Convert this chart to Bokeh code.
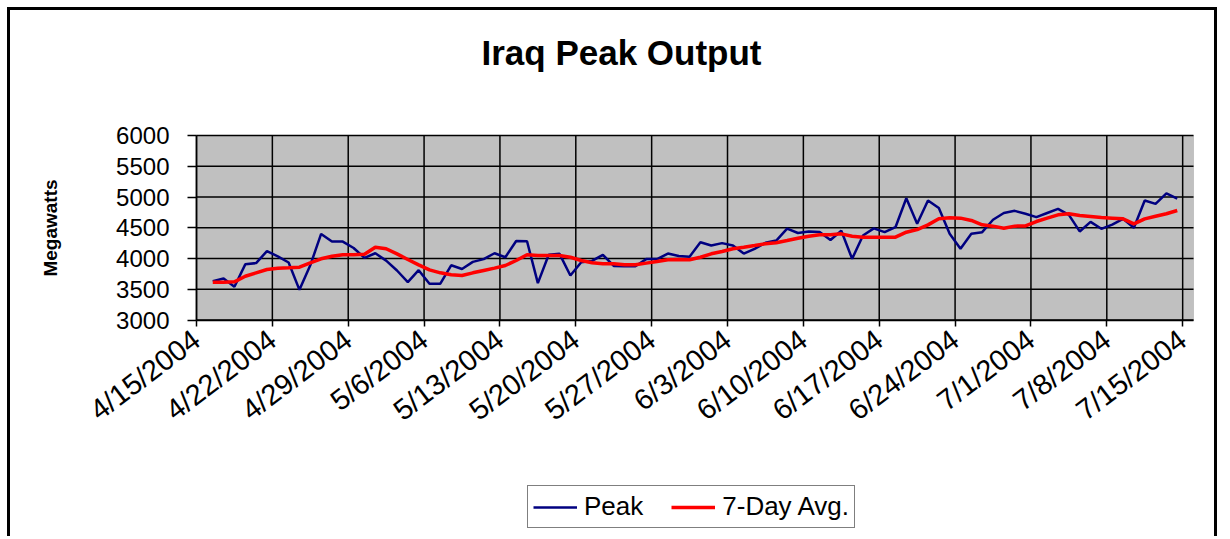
import math
import datetime as dt
from bokeh.plotting import figure
from bokeh.models import (FixedTicker, Legend, LegendItem, Label, LinearAxis,
                          Range1d, BoxAnnotation)
from bokeh.embed import file_html
from bokeh.resources import INLINE

# ---------------- data ----------------
TITLE = "Iraq Peak Output"
Y_LABEL = "Megawatts"
AXIS_START = "2004-04-15"
FIRST_DAY = "2004-04-16"
TICK_LABELS = ["4/15/2004", "4/22/2004", "4/29/2004", "5/6/2004", "5/13/2004",
               "5/20/2004", "5/27/2004", "6/3/2004", "6/10/2004", "6/17/2004",
               "6/24/2004", "7/1/2004", "7/8/2004", "7/15/2004"]
Y_TICKS = [3000, 3500, 4000, 4500, 5000, 5500, 6000]

peak = [3630, 3675, 3540, 3905, 3925, 4120, 4035, 3935, 3490, 3890,
        4400, 4275, 4275, 4170, 4010, 4085, 3965, 3805, 3615, 3810,
        3588, 3590, 3890, 3830, 3945, 3990, 4085, 4021, 4285, 4280,
        3600, 4060, 4076, 3724, 3940, 3960, 4060, 3880, 3875, 3875,
        3990, 3990, 4080, 4040, 4030, 4265, 4211, 4250, 4211, 4080,
        4158, 4255, 4292, 4485, 4415, 4439, 4430, 4300, 4450, 3995,
        4374, 4490, 4428, 4509, 4980, 4564, 4943, 4820, 4401, 4158,
        4401, 4428, 4630, 4740, 4775, 4727, 4672, 4740, 4808, 4710,
        4440, 4595, 4483, 4550, 4645, 4500, 4943, 4889, 5060, 4975]

avg7 = [3615, 3615, 3620, 3712, 3767, 3821, 3843, 3848, 3859, 3930,
        3995, 4037, 4060, 4060, 4070, 4184, 4158, 4076, 3984, 3897,
        3816, 3767, 3735, 3724, 3767, 3805, 3843, 3886, 3967, 4060,
        4049, 4049, 4049, 4021, 3967, 3930, 3914, 3914, 3897, 3897,
        3925, 3951, 3978, 3984, 3980, 4021, 4076, 4114, 4158, 4184,
        4211, 4239, 4255, 4292, 4330, 4363, 4385, 4385, 4401, 4363,
        4347, 4347, 4347, 4347, 4428, 4471, 4547, 4645, 4661, 4656,
        4618, 4547, 4526, 4493, 4526, 4530, 4601, 4656, 4710, 4727,
        4699, 4683, 4667, 4656, 4645, 4564, 4645, 4688, 4727, 4780]

# ---------------- layout (pixels, page coordinates) ----------------
W, H = 1210, 529            # drawing area inside the CSS border
ORIGIN_X, ORIGIN_Y = 10, 10  # page position of drawing area
AREA_L, AREA_R = 196, 1193   # plot area left/right (page px)
AREA_T, AREA_B = 135, 319.5  # plot area top/bottom (page px)

start = dt.date.fromisoformat(AXIS_START)
first = dt.date.fromisoformat(FIRST_DAY)
off0 = (first - start).days
xs = [off0 + i + 0.5 for i in range(len(peak))]
tick_pos = [7 * i for i in range(len(TICK_LABELS))]
n_days = tick_pos[-1] + 1
y0, y1 = Y_TICKS[0], Y_TICKS[-1]

kx = (AREA_R - AREA_L) / n_days
ky = (AREA_B - AREA_T) / (y1 - y0)
x_start = -(AREA_L - ORIGIN_X) / kx
x_end = n_days + (ORIGIN_X + W - AREA_R) / kx
y_end = y1 + (AREA_T - ORIGIN_Y) / ky
y_start = y0 - (ORIGIN_Y + H - AREA_B) / ky

FONT = "Liberation Sans"

p = figure(width=W, height=H, output_backend="svg", toolbar_location=None,
           x_range=Range1d(x_start, x_end), y_range=Range1d(y_start, y_end),
           x_axis_type=None, y_axis_type=None,
           min_border_left=0, min_border_right=0,
           min_border_top=0, min_border_bottom=0)
p.styles = {"margin-left": "7px", "margin-top": "7px",
            "border-top": "3px solid black", "border-left": "3px solid black",
            "border-right": "3px solid black"}
p.background_fill_color = "white"
p.border_fill_color = "white"
p.outline_line_color = None
p.grid.visible = False

# plot area
p.add_layout(BoxAnnotation(left=0, right=n_days, bottom=y0, top=y1,
                           fill_color="#C0C0C0", fill_alpha=1,
                           line_color="#808080", line_width=1, level="underlay"))

# grid lines
p.segment(x0=tick_pos, y0=[y0] * len(tick_pos), x1=tick_pos, y1=[y1] * len(tick_pos),
          line_color="black", line_width=1.5)
p.segment(x0=[0] * len(Y_TICKS), y0=Y_TICKS, x1=[n_days] * len(Y_TICKS), y1=Y_TICKS,
          line_color="black", line_width=1.5)

# axes
xaxis = LinearAxis(fixed_location=y0, bounds=(0, n_days),
                   ticker=FixedTicker(ticks=tick_pos))
xaxis.major_label_overrides = {t: s for t, s in zip(tick_pos, TICK_LABELS)}
xaxis.major_label_orientation = math.radians(37)
yaxis = LinearAxis(fixed_location=0, bounds=(y0, y1),
                   ticker=FixedTicker(ticks=Y_TICKS))
for ax in (xaxis, yaxis):
    ax.axis_line_color = "black"
    ax.axis_line_width = 1.5
    ax.major_tick_line_color = "black"
    ax.major_tick_line_width = 1.5
    ax.major_tick_in = 0
    ax.minor_tick_line_color = None
    ax.major_label_text_font = FONT
    ax.major_label_text_color = "black"
xaxis.major_tick_out = 6
yaxis.major_tick_out = 9
xaxis.major_label_text_font_size = "29px"
yaxis.major_label_text_font_size = "24px"
xaxis.major_label_standoff = 10
yaxis.major_label_standoff = 18
yaxis.axis_label = Y_LABEL
yaxis.axis_label_text_font = FONT
yaxis.axis_label_text_font_style = "bold"
yaxis.axis_label_text_font_size = "19px"
yaxis.axis_label_text_color = "black"
yaxis.axis_label_standoff = 52
p.add_layout(xaxis, "below")
p.add_layout(yaxis, "left")

# lines
r_peak = p.line(xs, peak, line_color="#000080", line_width=2.5)
r_avg = p.line(xs, avg7, line_color="#FF0000", line_width=3.5)

# title
p.add_layout(Label(x=621 - ORIGIN_X, y=ORIGIN_Y + H - 52, x_units="screen", y_units="screen",
                   text=TITLE, text_font=FONT, text_font_style="bold",
                   text_font_size="35px", text_align="center", text_baseline="middle",
                   text_color="black"))

# legend
legend = Legend(items=[LegendItem(label="Peak", renderers=[r_peak]),
                       LegendItem(label="7-Day Avg.", renderers=[r_avg])],
                location=(527 - ORIGIN_X, ORIGIN_Y + H - 528), orientation="horizontal",
                label_text_font=FONT, label_text_font_size="26px",
                label_text_color="black",
                border_line_color="black", border_line_width=1.5,
                background_fill_color="white", background_fill_alpha=1,
                glyph_width=44, label_standoff=7, spacing=28, padding=5,
                margin=0)
p.add_layout(legend, "center")

open("out.html", "w").write(file_html(p, INLINE))
